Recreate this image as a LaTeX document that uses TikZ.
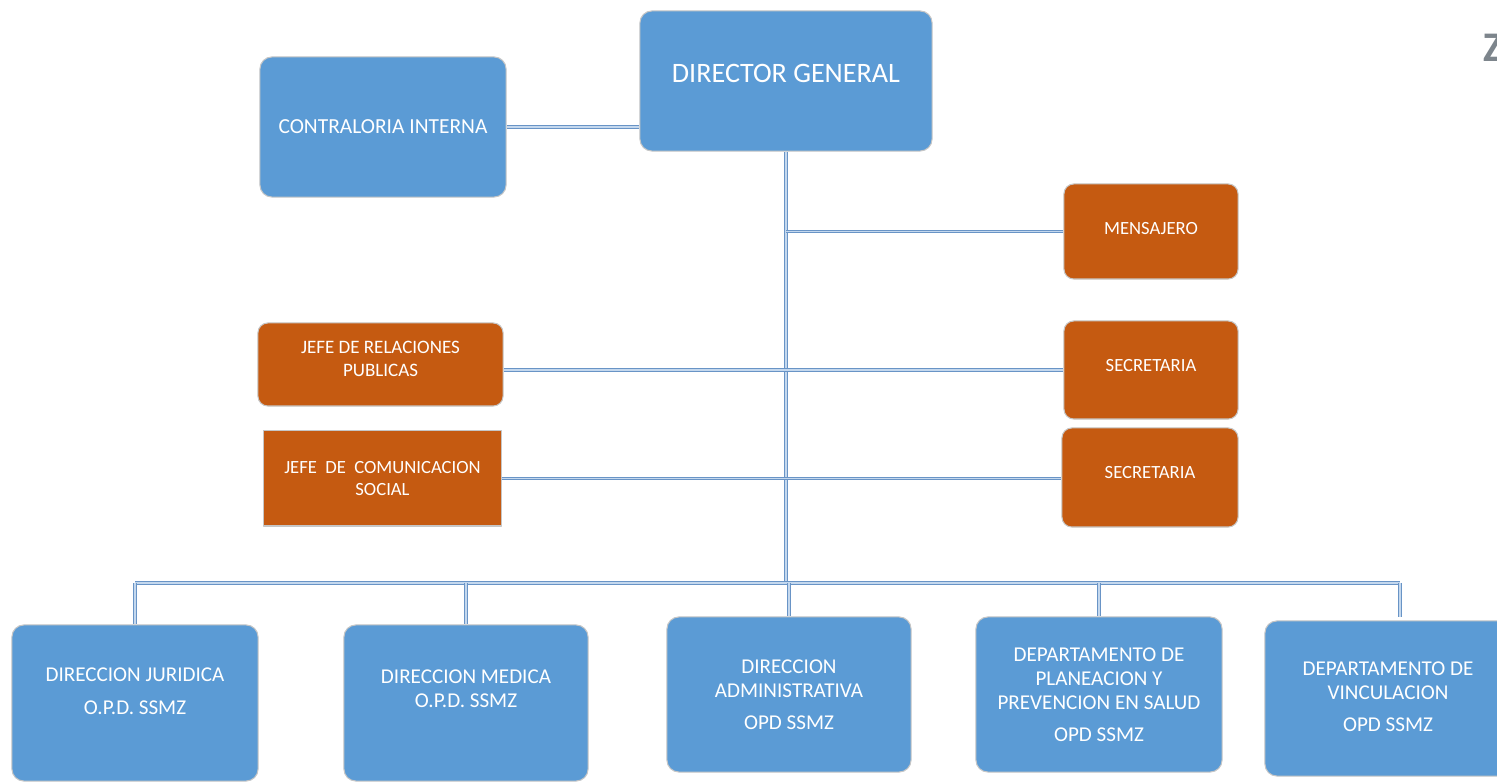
\documentclass[tikz,border=0pt]{standalone}
\usepackage{fontspec}
\setmainfont{Carlito}
\usepackage{xcolor}
\usepackage{tikz}
\usetikzlibrary{calc}
\definecolor{boxblue}{RGB}{91,155,213}
\definecolor{boxorange}{RGB}{197,90,17}
\definecolor{linkblue}{RGB}{105,148,198}
\definecolor{linkpale}{RGB}{196,216,238}
\definecolor{zgray}{RGB}{125,133,140}

\begin{document}
\begin{tikzpicture}[x=0.01cm,y=-0.01cm,line join=round,
  unit/.style={rectangle,draw=gray!45,line width=0.3pt,text=white,align=center,inner sep=0pt},
  blueunit/.style={unit,fill=boxblue,rounded corners=3.4pt},
  orangeunit/.style={unit,fill=boxorange,rounded corners=2.8pt},
  link/.style={draw=linkblue,line width=0.3pt,double=linkpale,double distance=0.35pt}]
  \useasboundingbox (0,0) rectangle (1497,783);
  \coordinate (bus) at (786,583);
  \coordinate (vdrop) at (1400,617);
  \node[blueunit,minimum width=2.92cm,minimum height=1.40cm,text depth=0.16cm,font=\fontsize{8}{9.6}\selectfont] (dirgen) at (786,81) {DIRECTOR GENERAL};
  \node[blueunit,minimum width=2.46cm,minimum height=1.40cm,font=\fontsize{6.1}{7.2}\selectfont] (contra) at (383,127) {CONTRALORIA INTERNA};
  \node[orangeunit,minimum width=1.74cm,minimum height=0.95cm,text depth=0.07cm,font=\fontsize{5.3}{6.2}\selectfont] (mens) at (1151,231.5) {MENSAJERO};
  \node[orangeunit,minimum width=2.45cm,minimum height=0.83cm,text depth=0.12cm,font=\fontsize{5.4}{6.5}\selectfont] (relac) at (380.5,364.5) {JEFE DE RELACIONES\\PUBLICAS};
  \node[orangeunit,minimum width=1.74cm,minimum height=0.98cm,text depth=0.10cm,font=\fontsize{5.3}{6.2}\selectfont] (secre1) at (1151,370) {SECRETARIA};
  \node[unit,fill=boxorange,minimum width=2.37cm,minimum height=0.95cm,font=\fontsize{5.3}{6.0}\selectfont] (comun) at (382.5,478.5) {JEFE \ DE \ COMUNICACION\\SOCIAL};
  \node[orangeunit,minimum width=1.76cm,minimum height=0.99cm,text depth=0.11cm,font=\fontsize{5.3}{6.2}\selectfont] (secre2) at (1150,477.5) {SECRETARIA};
  \node[blueunit,minimum width=2.46cm,minimum height=1.56cm,text depth=0.23cm,font=\fontsize{6}{6.8}\selectfont] (jurid) at (135,703) {DIRECCION JURIDICA\\[2.6pt]O.P.D. SSMZ};
  \node[blueunit,minimum width=2.44cm,minimum height=1.56cm,text depth=0.28cm,font=\fontsize{6}{6.8}\selectfont] (medic) at (466,703) {DIRECCION MEDICA\\O.P.D. SSMZ};
  \node[blueunit,minimum width=2.44cm,minimum height=1.55cm,font=\fontsize{6}{6.8}\selectfont] (admin) at (789,694.5) {DIRECCION\\ADMINISTRATIVA\\[2.3pt]OPD SSMZ};
  \node[blueunit,minimum width=2.46cm,minimum height=1.55cm,font=\fontsize{6}{6.8}\selectfont] (plane) at (1099,694.5) {DEPARTAMENTO DE\\PLANEACION Y\\PREVENCION EN SALUD\\[2.3pt]OPD SSMZ};
  \node[blueunit,minimum width=2.46cm,minimum height=1.55cm,text depth=0.03cm,font=\fontsize{6}{6.8}\selectfont] (vincu) at (1388,698.5) {DEPARTAMENTO DE\\VINCULACION\\[2.3pt]OPD SSMZ};
  \node[anchor=base west,inner sep=0pt,text=zgray,font=\fontsize{12}{14}\selectfont\bfseries] (zmark) at (1483,62) {Z};
  \draw[link] (contra.east) -- (contra.east -| dirgen.west);
  \draw[link] (dirgen.south) -- (bus);
  \draw[link] (mens.west) -- (mens.west -| bus);
  \draw[link] (relac.east |- secre1.west) -- (secre1.west);
  \draw[link] (comun.east) -- (comun.east -| secre2.west);
  \draw[link] (jurid.north |- bus) -- (vdrop |- bus);
  \foreach \u in {jurid,medic,admin,plane}
    \draw[link] (\u.north |- bus) -- (\u.north);
  \draw[link] (vdrop |- bus) -- (vdrop);
\end{tikzpicture}
\end{document}
